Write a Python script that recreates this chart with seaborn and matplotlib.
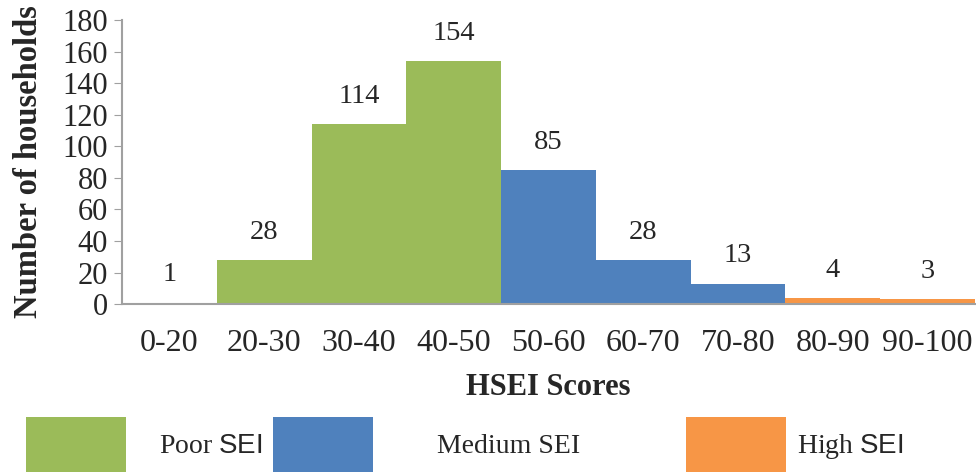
import matplotlib
matplotlib.use("Agg")
import matplotlib.pyplot as plt
import seaborn as sns
from matplotlib.patches import Patch

# data
categories = ["0-20", "20-30", "30-40", "40-50", "50-60", "60-70", "70-80", "80-90", "90-100"]
households = [1, 28, 114, 154, 85, 28, 13, 4, 3]
sei_class = ["Poor", "Poor", "Poor", "Poor", "Medium", "Medium", "Medium", "High", "High"]
class_names = ["Poor", "Medium", "High"]
class_labels = ["Poor $\\mathsf{SEI}$", "Medium SEI", "High $\\mathsf{SEI}$"]
class_colors = ["#9BBB59", "#4F81BD", "#F79646"]

sns.set_style("white")
plt.rcParams['font.family'] = ['Liberation Serif', 'DejaVu Serif']
plt.rcParams['mathtext.fontset'] = 'custom'
plt.rcParams['mathtext.sf'] = 'Liberation Sans'

fig = plt.figure(figsize=(9.76, 4.76), dpi=100)
ax = fig.add_axes([0.125, 0.361, 0.874, 0.597])

pal = dict(zip(class_names, class_colors))
sns.barplot(x=categories, y=households, hue=sei_class, palette=pal, dodge=False,
            width=1.0, legend=False, ax=ax, saturation=1, linewidth=0)

for c in ax.containers:
    ax.bar_label(c, fontsize=20.5, padding=11)

ax.set_ylim(0, 180)
ax.set_yticks(range(0, 181, 20))
ax.set_xlim(-0.5, len(categories) - 0.5)
ax.tick_params(axis='y', labelsize=22, length=6, color='#A0A0A0', left=True, pad=4)
ax.tick_params(axis='x', labelsize=23, length=0, pad=18)
ax.set_ylabel("Number of households", fontsize=23.5, fontweight='bold', labelpad=13)
ax.set_xlabel("HSEI Scores", fontsize=22, fontweight='bold', labelpad=11)

for s in ['top', 'right']:
    ax.spines[s].set_visible(False)
for s in ['left', 'bottom']:
    ax.spines[s].set_color('#A0A0A0')
    ax.spines[s].set_linewidth(1.5)

# legend entries placed individually like the original
legend_x = [0.001, 0.254, 0.677]
text_pads = [1.2, 2.3, 0.4]
for name, lab, col, lx, tp in zip(class_names, class_labels, class_colors, legend_x, text_pads):
    fig.legend(handles=[Patch(facecolor=col, edgecolor='none', label=lab)],
               loc='lower left', bbox_to_anchor=(lx, -0.045), frameon=False,
               fontsize=20, handlelength=3.6, handleheight=2.67, handletextpad=tp)

fig.savefig("out.png", dpi=100)
